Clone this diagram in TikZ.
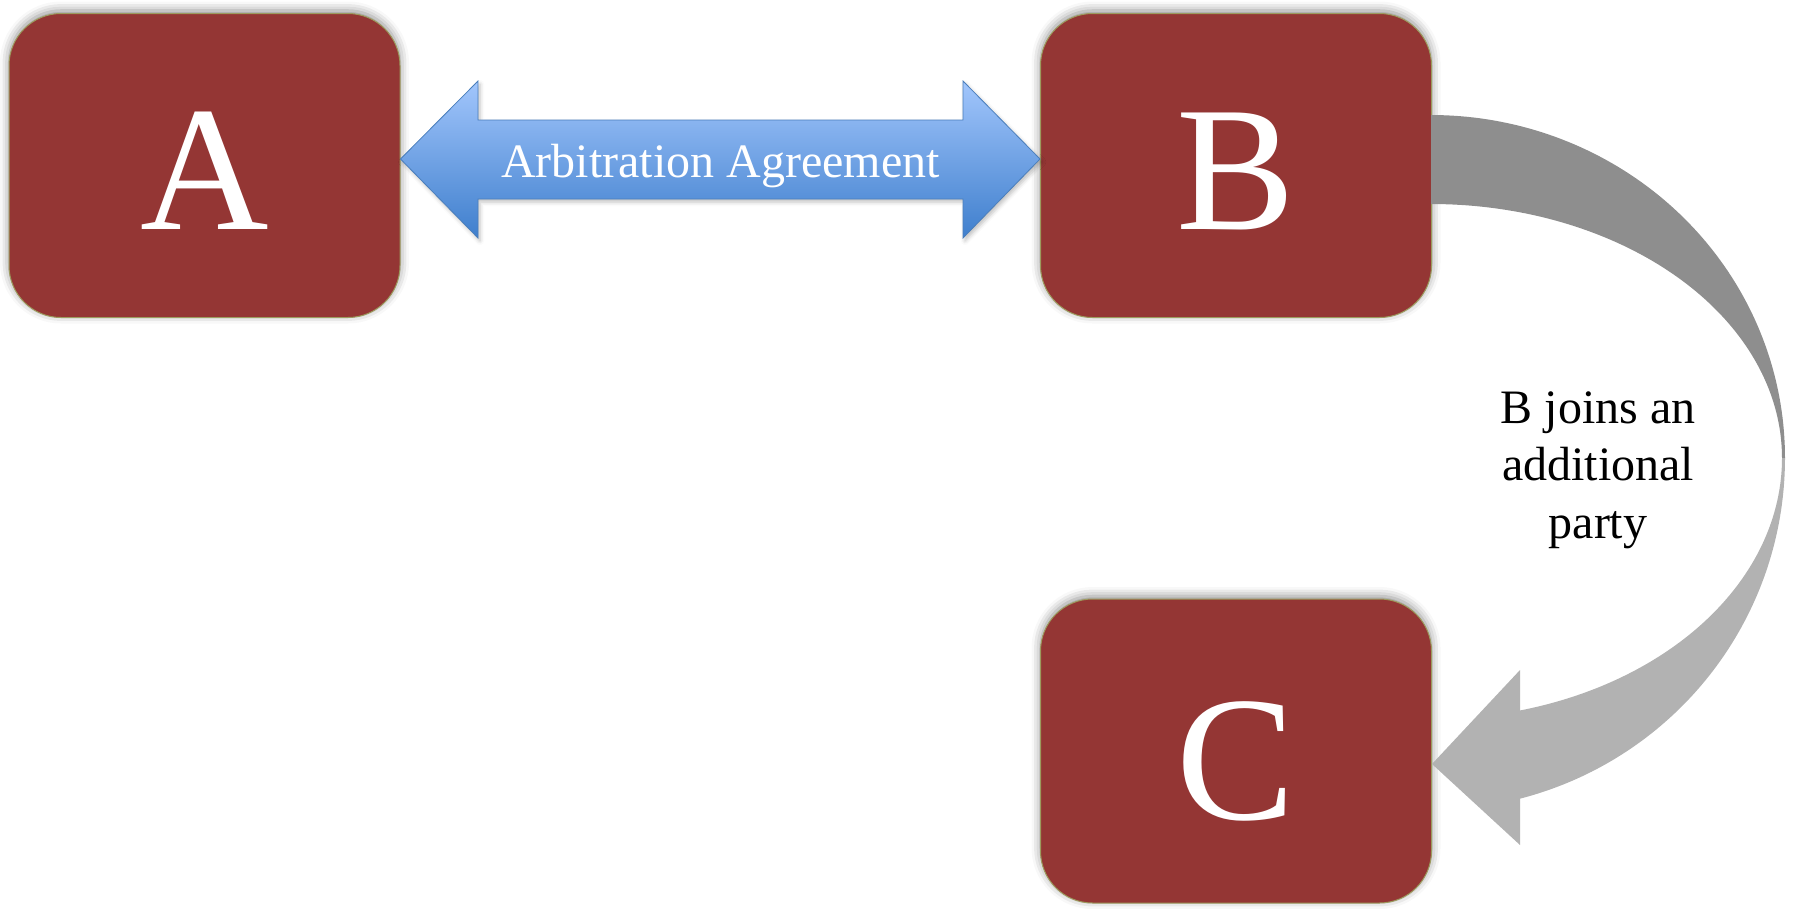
\documentclass[tikz,border=0pt]{standalone}
\usepackage{fontspec}
\setmainfont{Liberation Serif}
\usetikzlibrary{shadows.blur,calc}
\definecolor{boxred}{HTML}{943634}
\definecolor{boxedge}{HTML}{9C9B5E}
\definecolor{arrtop}{HTML}{A2C6FC}
\definecolor{arrbot}{HTML}{3F7FCD}
\definecolor{arredge}{HTML}{4A7EBB}
\definecolor{graydark}{HTML}{8E8E8E}
\definecolor{graylight}{HTML}{B2B2B2}
\begin{document}
\begin{tikzpicture}[x=1pt,y=-1pt,
  party/.style={draw=boxedge, line width=1pt, fill=boxred, rounded corners=52pt,
    minimum width=391pt, minimum height=304pt, inner sep=0pt, text=white,
    text height=128pt, text depth=0pt,
    font=\fontsize{178}{178}\selectfont,
    blur shadow={shadow xshift=0pt, shadow yshift=3pt, shadow blur radius=9pt, shadow opacity=45, shadow scale=1.0}},
  arrowfill/.style={draw=arredge, line width=0.8pt, top color=arrtop, bottom color=arrbot,
    blur shadow={shadow xshift=2pt, shadow yshift=-3pt, shadow blur radius=4pt, shadow opacity=25}},
  agrtext/.style={text=white, font=\fontsize{48}{48}\selectfont, inner sep=0pt},
  lbltext/.style={align=center, font=\fontsize{48}{57.5}\selectfont, inner sep=0pt}
]
\useasboundingbox (0,0) rectangle (1797,908);

\node[party] (A) at (204.5,165.5) {A};
\node[party] (B) at (1236,165.5) {B};
\node[party, text height=136pt] (C) at (1236,751) {C};

% double arrow between A and B
\coordinate (tipL) at ([yshift=6.5pt]A.east);
\coordinate (tipR) at ([yshift=6.5pt]B.west);
\path[arrowfill] (tipL) -- (478,81) -- (478,120) -- (963,120) -- (963,81) -- (tipR)
  -- (963,238) -- (963,199) -- (478,199) -- (478,238) -- cycle;
\node[agrtext] (agr) at (720.5,166) {Arbitration Agreement};

% curved arrow from B to C
\coordinate (tipC) at ([yshift=-13pt]C.east);
\fill[graydark] plot[domain=90:0, samples=80] ({1431+354*cos(\x)}, {458-343*sin(\x)})
  -- plot[domain=0:90, samples=80] ({1431+351*cos(\x)}, {458-254*sin(\x)}) -- cycle;
\fill[graylight] plot[domain=0:-75.4, samples=80] ({1431+354*cos(\x)}, {458-352*sin(\x)})
  -- (1520,845) -- (tipC) -- (1520,670)
  -- plot[domain=-75.3:0, samples=80] ({1431+351*cos(\x)}, {458-261*sin(\x)}) -- cycle;

\node[lbltext] (lbl) at (1598,470) {B joins an\\additional\\party};
\end{tikzpicture}
\end{document}
